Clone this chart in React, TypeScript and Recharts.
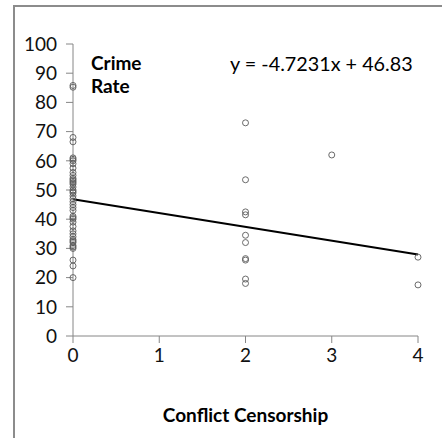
import React from "react";
import {
  ScatterChart,
  Scatter,
  XAxis,
  YAxis,
  ReferenceLine,
} from "recharts";

// crime rate values, grouped by conflict censorship level
const rateAt0 = [
  85.8, 85.2, 68, 66.5, 61, 60.5, 60, 59, 57.5, 56, 55, 54, 53.5, 53, 52.5, 52,
  51, 50, 49.5, 49, 48, 47, 46, 45, 44, 43, 41, 40.5, 40, 39, 37.5, 36, 35, 34,
  33, 32.5, 32, 31, 30.5, 30, 26, 24, 20,
];
const rateAt2 = [73, 53.5, 42.5, 41.5, 34.5, 32, 26.5, 26, 19.5, 18];
const rateAt3 = [62];
const rateAt4 = [27, 17.5];

const xTicks = [0, 1, 2, 3, 4];
const yTicks = [0, 10, 20, 30, 40, 50, 60, 70, 80, 90, 100];

// trendline as printed on the chart
const slope = -4.7231;
const intercept = 46.83;
const equationText = "y = -4.7231x + 46.83";

const points = [
  ...rateAt0.map((y) => ({ x: 0, y })),
  ...rateAt2.map((y) => ({ x: 2, y })),
  ...rateAt3.map((y) => ({ x: 3, y })),
  ...rateAt4.map((y) => ({ x: 4, y })),
];

const font = "Lato, 'Open Sans', sans-serif";
const axisGray = "#868686";

const Ring = (props: any) => {
  const { cx, cy } = props;
  return <circle cx={cx} cy={cy} r={3} fill="none" stroke="#5a5a5a" strokeWidth={0.9} />;
};

export default function App() {
  return (
    <div style={{ position: "absolute", left: 0, top: 0, width: 442, height: 438, background: "#fff", fontFamily: font }}>
      <div
        style={{
          position: "absolute",
          left: 13,
          top: 5,
          width: 429,
          height: 433,
          borderLeft: "2px solid #8c8c8c",
          borderTop: "2px solid #8c8c8c",
          boxSizing: "border-box",
        }}
      />
      <ScatterChart width={442} height={438} margin={{ top: 44, right: 24, left: 0, bottom: 0 }}>
        <XAxis
          type="number"
          dataKey="x"
          domain={[0, 4]}
          ticks={xTicks}
          interval={0}
          stroke={axisGray}
          tickSize={7}
          tickMargin={6}
          height={102}
          tick={{ fill: "#111", fontSize: 19, fontFamily: font }}
          label={{
            value: "Conflict Censorship",
            position: "insideBottom",
            offset: 16,
            style: { fill: "#000", fontSize: 19, fontWeight: 700, fontFamily: font },
          }}
        />
        <YAxis
          type="number"
          dataKey="y"
          domain={[0, 100]}
          ticks={yTicks}
          interval={0}
          width={73}
          stroke={axisGray}
          tickSize={7}
          tickMargin={9}
          tick={{ fill: "#111", fontSize: 19, fontFamily: font }}
        />
        <ReferenceLine
          segment={[
            { x: 0, y: intercept },
            { x: 4, y: intercept + slope * 4 },
          ]}
          stroke="#000"
          strokeWidth={2}
        />
        <Scatter data={points} shape={Ring} isAnimationActive={false} />
      </ScatterChart>
      <div style={{ position: "absolute", left: 91, top: 51, fontSize: 19, fontWeight: 700, lineHeight: "23px", color: "#000" }}>
        Crime
        <br />
        Rate
      </div>
      <div style={{ position: "absolute", left: 230, top: 51, fontSize: 19.8, color: "#000", whiteSpace: "nowrap" }}>
        {equationText}
      </div>
    </div>
  );
}
